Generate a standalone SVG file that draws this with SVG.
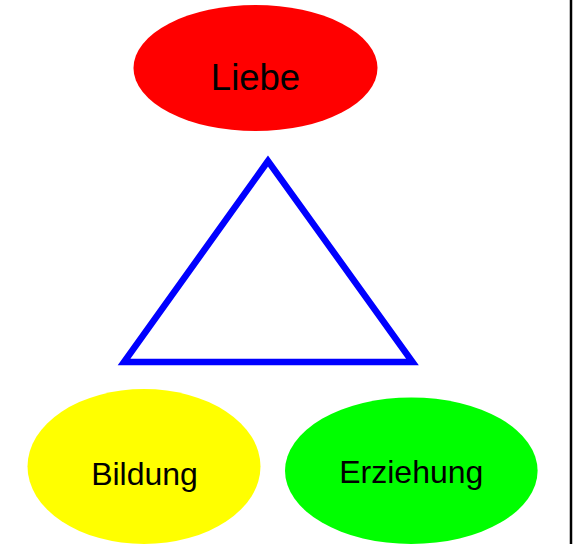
<svg xmlns="http://www.w3.org/2000/svg" width="578" height="544" viewBox="0 0 578 544">
  <style>
    .label { font-family: "Liberation Sans", Arial, sans-serif; fill: #000; text-anchor: middle; }
  </style>
  <rect x="0" y="0" width="578" height="544" fill="#fff"/>
  <line x1="571" y1="0" x2="571" y2="544" stroke="#000" stroke-width="2.5"/>
  <g id="connectors">
    <polygon id="triangle" points="268,161 124,362 412.5,362" fill="none" stroke="#0000ff" stroke-width="6.5" stroke-linejoin="miter"/>
  </g>
  <g id="liebe">
    <ellipse cx="255.5" cy="68" rx="122" ry="63" fill="#ff0000"/>
    <text class="label" x="255.5" y="90" font-size="36.5">Liebe</text>
  </g>
  <g id="bildung">
    <ellipse cx="144" cy="466.5" rx="116.5" ry="77.5" fill="#ffff00"/>
    <text class="label" x="144.5" y="485" font-size="32">Bildung</text>
  </g>
  <g id="erziehung">
    <ellipse cx="411.3" cy="470.7" rx="126.3" ry="73.3" fill="#00ff00"/>
    <text class="label" x="411.3" y="482.7" font-size="32">Erziehung</text>
  </g>
</svg>
